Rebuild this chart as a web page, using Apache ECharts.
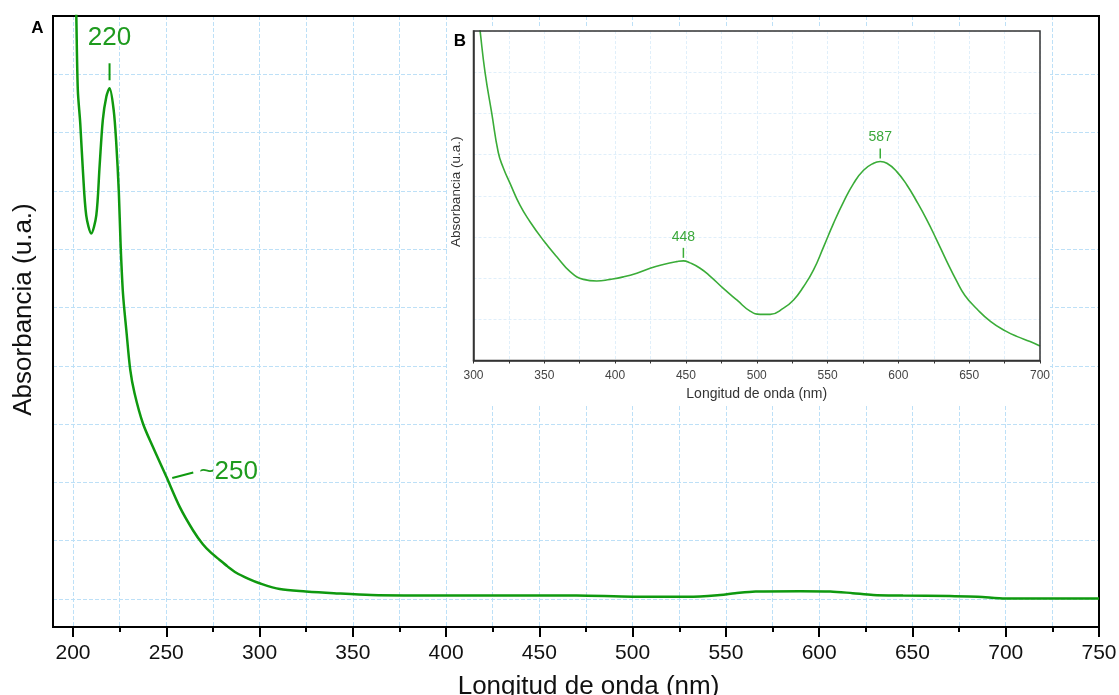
<!DOCTYPE html>
<html><head><meta charset="utf-8">
<script src="https://cdn.jsdelivr.net/npm/echarts@6/dist/echarts.min.js"></script>
<style>html,body{margin:0;padding:0;background:#fff}#c{width:1119px;height:695px}</style>
</head><body><div id="c"></div><script>
// ---- Data (A: main spectrum) ----
const mainWavelength = [201.5, 202.0, 202.8, 204.1, 205.5, 207.3, 210.0, 212.7, 214.5, 216.2, 218.1, 219.8, 222.0, 223.4, 224.8, 225.7, 227.0, 228.8, 230.9, 233.2, 237.7, 243.0, 250.2, 257.4, 264.5, 269.8, 274.0, 278.8, 283.0, 287.7, 294.0, 300.2, 311.0, 325.0, 340.0, 360.0, 400, 470, 500, 530, 547, 555, 566, 590, 606, 618, 629, 645, 670, 685, 700, 750];
const mainAbsorbance = [11.3, 10.47, 9.21, 8.64, 7.84, 7.06, 6.75, 7.06, 7.92, 8.70, 9.10, 9.24, 8.87, 8.30, 7.44, 6.58, 5.72, 5.09, 4.41, 4.01, 3.49, 3.09, 2.58, 2.06, 1.66, 1.42, 1.28, 1.15, 1.04, 0.93, 0.83, 0.75, 0.65, 0.61, 0.58, 0.55, 0.54, 0.54, 0.52, 0.52, 0.55, 0.58, 0.61, 0.615, 0.61, 0.58, 0.55, 0.54, 0.53, 0.52, 0.49, 0.49];
// ---- Data (B: inset spectrum) ----
const insetWavelength = [303.0, 304.6, 308.1, 312.9, 317.5, 321.0, 325.8, 332.8, 339.9, 349.3, 358.8, 368.2, 377.6, 387.0, 396.4, 405.8, 415.3, 424.7, 434.0, 443.5, 448.2, 452.9, 460.0, 467.0, 476.4, 485.9, 495.3, 502.4, 509.5, 518.9, 526.0, 533.0, 540.1, 547.2, 554.2, 561.3, 568.4, 575.4, 582.5, 587.2, 591.9, 599.0, 606.0, 613.0, 620.0, 627.0, 634.0, 641.0, 647.0, 655.5, 665.0, 675.5, 684.0, 693.0, 700.0];
const insetAbsorbance = [8.5, 8.02, 7.01, 6.00, 5.05, 4.68, 4.30, 3.77, 3.37, 2.92, 2.52, 2.16, 1.97, 1.93, 1.97, 2.03, 2.12, 2.24, 2.33, 2.40, 2.42, 2.37, 2.24, 2.05, 1.75, 1.47, 1.20, 1.12, 1.12, 1.27, 1.47, 1.79, 2.20, 2.76, 3.33, 3.85, 4.30, 4.62, 4.79, 4.83, 4.79, 4.58, 4.26, 3.86, 3.42, 2.93, 2.42, 1.94, 1.58, 1.25, 0.95, 0.72, 0.58, 0.46, 0.35];
// ---- Annotations ----
const mainPeakNm = [219.8];
const mainPeakLabel = ['220'];
const mainShoulderNm = [250.2];
const mainShoulderLabel = ['~250'];
const insetPeakNm = [448.2, 587.2];
const insetPeakLabel = ['448', '587'];
const panelLabels = ['A', 'B'];
const xTitle = 'Longitud de onda (nm)';
const yTitle = 'Absorbancia (u.a.)';

const FONT = "'Liberation Sans', Arial, sans-serif";
const GRIDC = '#bde0f7';
const INSETGRIDC = '#e0effa';
const MAINGREEN = '#0f990f';
const INSETGREEN = '#3aac38';

const chart = echarts.init(document.getElementById('c'), null, {renderer: 'canvas'});
const mainData = mainWavelength.map((x, i) => [x, mainAbsorbance[i]]);
const insetData = insetWavelength.map((x, i) => [x, insetAbsorbance[i]]);
const dashed = c => ({show: true, lineStyle: {color: c, type: [4, 2], width: 1}});
const gridBase = {containLabel: false, outerBoundsMode: 'none'};

chart.setOption({
  animation: false,
  backgroundColor: '#fff',
  grid: [
    Object.assign({left: 53, right: 20, top: 16, bottom: 68, show: true, borderColor: '#000', borderWidth: 2, backgroundColor: 'transparent', z: 1}, gridBase),
    Object.assign({left: 73, right: 20, top: 16, bottom: 68}, gridBase),
    Object.assign({left: 53, right: 20, top: 16, bottom: 96}, gridBase),
    Object.assign({left: 473.5, right: 79, top: 31, bottom: 334.5, show: true, borderColor: '#333', borderWidth: 1.5, backgroundColor: 'transparent', z: 7}, gridBase)
  ],
  xAxis: [
    {gridIndex: 0, type: 'value', min: 189.5, max: 750, axisLine: {show: true, lineStyle: {color: '#000', width: 2}}, axisTick: {show: false}, axisLabel: {show: false}, splitLine: {show: false}},
    {gridIndex: 1, type: 'value', min: 200, max: 750, interval: 50,
      axisLine: {show: true, lineStyle: {color: '#000', width: 2}},
      axisTick: {show: true, inside: false, length: 10, lineStyle: {color: '#000', width: 2}},
      minorTick: {show: true, splitNumber: 2, length: 5, lineStyle: {color: '#000', width: 2}},
      axisLabel: {show: true, margin: 16, fontSize: 21, color: '#111', fontFamily: FONT},
      splitLine: dashed(GRIDC), minorSplitLine: dashed(GRIDC),
      name: xTitle, nameLocation: 'middle', nameGap: 47,
      nameTextStyle: {fontSize: 26, color: '#111', fontFamily: FONT, padding: [0, 0, 0, 5]}},
    {gridIndex: 2, type: 'value', min: 0, max: 1, show: false},
    {gridIndex: 3, type: 'value', min: 300, max: 700, interval: 50, z: 5,
      axisLine: {show: true, lineStyle: {color: '#333', width: 1.5}},
      axisTick: {show: true, inside: false, length: 3, lineStyle: {color: '#333', width: 1}},
      minorTick: {show: true, splitNumber: 2, length: 3, lineStyle: {color: '#333', width: 1}},
      axisLabel: {show: true, margin: 9, fontSize: 12, color: '#444', fontFamily: FONT},
      splitLine: {show: true, lineStyle: {color: INSETGRIDC, type: [3, 2], width: 1}},
      minorSplitLine: {show: true, lineStyle: {color: INSETGRIDC, type: [3, 2], width: 1}},
      name: xTitle, nameLocation: 'middle', nameGap: 27,
      nameTextStyle: {fontSize: 14, color: '#333', fontFamily: FONT}}
  ],
  yAxis: [
    {gridIndex: 0, type: 'value', min: 0, max: 10.48, axisLine: {show: true, lineStyle: {color: '#000', width: 2}}, axisTick: {show: false}, axisLabel: {show: false}, splitLine: {show: false},
      name: yTitle, nameLocation: 'middle', nameGap: 16,
      nameTextStyle: {fontSize: 26, color: '#111', fontFamily: FONT, padding: [0, 0, 0, 24]}},
    {gridIndex: 1, type: 'value', min: 0, max: 1, show: false},
    {gridIndex: 2, type: 'value', min: 0, max: 10, interval: 1, axisLine: {show: false}, axisTick: {show: false}, axisLabel: {show: false}, splitLine: dashed(GRIDC)},
    {gridIndex: 3, type: 'value', min: 0, max: 8, interval: 1, z: 5,
      axisLine: {show: true, lineStyle: {color: '#333', width: 1.5}}, axisTick: {show: false}, axisLabel: {show: false},
      splitLine: {show: true, lineStyle: {color: INSETGRIDC, type: [3, 2], width: 1}},
      name: yTitle, nameLocation: 'middle', nameGap: 10,
      nameTextStyle: {fontSize: 13.5, color: '#333', fontFamily: FONT, padding: [0, 0, 0, 8]}}
  ],
  series: [
    {type: 'line', xAxisIndex: 0, yAxisIndex: 0, data: mainData, symbol: 'none', smooth: 0.3, clip: true, z: 2,
      lineStyle: {color: MAINGREEN, width: 2.5}},
    {type: 'line', xAxisIndex: 3, yAxisIndex: 3, data: insetData, symbol: 'none', smooth: 0.5, clip: true, z: 6,
      lineStyle: {color: INSETGREEN, width: 1.6}}
  ]
});

function valAt(xs, ys, nm) { const i = xs.indexOf(nm); return ys[i]; }
function txt(text, x, y, size, color, weight, align) {
  return {type: 'text', z: 10, style: {text: text, x: x, y: y, fill: color, fontSize: size, fontFamily: FONT, fontWeight: weight || 'normal',
    align: align || 'center', verticalAlign: 'middle', textAlign: align || 'center', textVerticalAlign: 'middle'}};
}
function seg(x1, y1, x2, y2, color, w) {
  return {type: 'line', z: 10, shape: {x1: x1, y1: y1, x2: x2, y2: y2}, style: {stroke: color, lineWidth: w}};
}
const g = [];
// white panel behind the inset
g.push({type: 'rect', z: 3, shape: {x: 448, y: 28, width: 602, height: 376}, style: {fill: '#fff'}});
g.push(txt(panelLabels[0], 37.5, 28.5, 17, '#000', 'bold'));
g.push(txt(panelLabels[1], 460, 41, 17, '#000', 'bold'));
mainPeakNm.forEach((nm, i) => {
  const p = chart.convertToPixel({gridIndex: 0}, [nm, valAt(mainWavelength, mainAbsorbance, nm)]);
  g.push(seg(p[0], p[1] - 8, p[0], p[1] - 25, MAINGREEN, 2));
  g.push(txt(mainPeakLabel[i], p[0], p[1] - 50, 26, '#1e9b1e'));
});
mainShoulderNm.forEach((nm, i) => {
  const p = chart.convertToPixel({gridIndex: 0}, [nm, valAt(mainWavelength, mainAbsorbance, nm)]);
  g.push(seg(p[0] + 6, p[1] + 1.5, p[0] + 27, p[1] - 4, MAINGREEN, 2));
  g.push(txt(mainShoulderLabel[i], p[0] + 33, p[1] - 5, 26, '#1e9b1e', 'normal', 'left'));
});
insetPeakNm.forEach((nm, i) => {
  const p = chart.convertToPixel({gridIndex: 3}, [nm, valAt(insetWavelength, insetAbsorbance, nm)]);
  g.push(seg(p[0], p[1] - 3, p[0], p[1] - 13, INSETGREEN, 1.5));
  g.push(txt(insetPeakLabel[i], p[0], p[1] - 24, 14, '#3aa83a'));
});
chart.setOption({graphic: g});
</script></body></html>
